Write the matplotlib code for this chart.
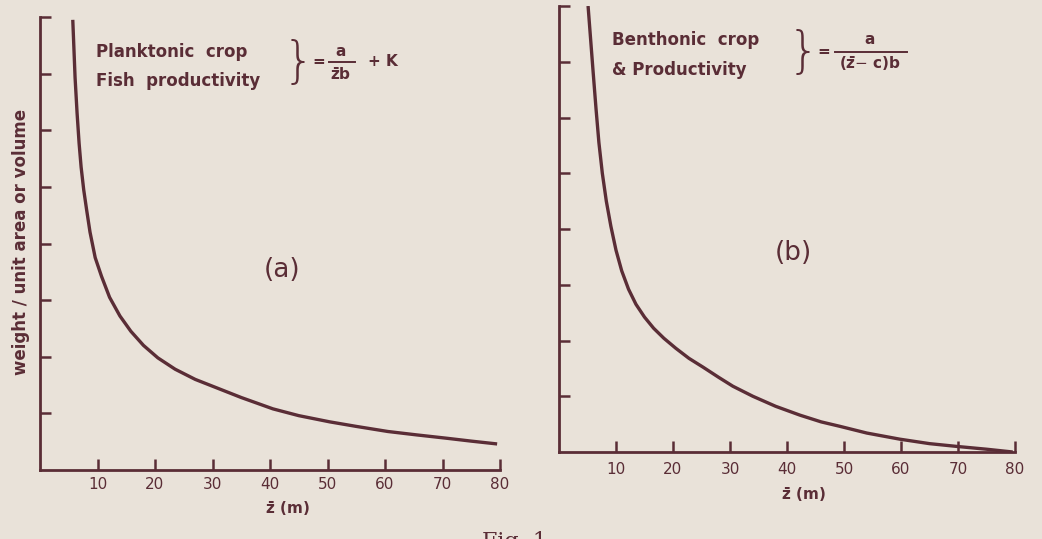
import matplotlib
matplotlib.use("Agg")
import matplotlib.pyplot as plt

# ---- data ----
plank_z = [5.7, 6.1, 6.45, 6.8, 7.15, 7.6, 8.1, 8.7, 9.6, 10.7, 12.1, 13.9, 15.8, 18.0,
           20.5, 23.5, 27.0, 30.5, 35.0, 40.5, 45.0, 50.4, 55.0, 60.5, 65.5, 70.8, 75.0, 79.5]
plank_w = [7.95, 6.93, 6.30, 5.77, 5.35, 4.95, 4.60, 4.20, 3.75, 3.42, 3.05, 2.72, 2.45, 2.20,
           1.98, 1.78, 1.60, 1.46, 1.28, 1.08, 0.96, 0.85, 0.77, 0.68, 0.62, 0.56, 0.51, 0.46]

benth_z = [5.1, 5.55, 6.0, 6.5, 7.0, 7.6, 8.3, 9.1, 10.0, 11.0, 12.2, 13.5, 15.0, 16.6, 18.4,
           20.5, 22.8, 25.3, 28.0, 30.5, 34.0, 38.0, 42.3, 46.0, 49.3, 54.0, 59.8, 65.0, 69.8,
           75.0, 79.6]
benth_w = [8.0, 7.4, 6.8, 6.15, 5.55, 5.0, 4.5, 4.05, 3.62, 3.25, 2.92, 2.65, 2.42, 2.22, 2.04,
           1.86, 1.68, 1.52, 1.34, 1.18, 1.00, 0.82, 0.66, 0.54, 0.46, 0.34, 0.23, 0.15, 0.10,
           0.05, 0.0]

x_ticks = [10, 20, 30, 40, 50, 60, 70, 80]
x_tick_labels = ["10", "20", "30", "40", "50", "60", "70", "80"]
y_ticks = [1, 2, 3, 4, 5, 6, 7, 8]

BG = "#e9e2d9"
INK = "#5a2d36"
W, H = 1042, 539

fig = plt.figure(figsize=(W / 100, H / 100), dpi=100, facecolor=BG)


def fx(px):
    return px / W


def fy(py):
    return 1 - py / H


def ftext(px, py, s, **kw):
    kw.setdefault("color", INK)
    kw.setdefault("ha", "center")
    kw.setdefault("va", "center")
    fig.text(fx(px), fy(py), s, **kw)


def make_axes(left, top, right, bottom, z, w, label_pad):
    ax = fig.add_axes([fx(left), fy(bottom), fx(right) - fx(left), (bottom - top) / H])
    ax.set_facecolor(BG)
    ax.plot(z, w, color=INK, lw=2.4, solid_capstyle="butt", solid_joinstyle="round")
    ax.set_xlim(0, 80)
    ax.set_ylim(0, 8)
    for s in ("top", "right"):
        ax.spines[s].set_visible(False)
    for s in ("left", "bottom"):
        ax.spines[s].set_color(INK)
        ax.spines[s].set_linewidth(2.0)
    ax.set_xticks(x_ticks)
    ax.set_xticklabels(x_tick_labels)
    ax.set_yticks(y_ticks)
    ax.set_yticklabels([])
    ax.tick_params(axis="both", direction="in", length=8, width=1.8, color=INK,
                   labelcolor=INK, labelsize=11)
    ax.tick_params(axis="x", pad=label_pad)
    return ax


ax1 = make_axes(40, 17, 500, 470, plank_z, plank_w, 5)
ax2 = make_axes(559, 6, 1015, 452, benth_z, benth_w, 7)

bold = dict(fontweight="bold", fontsize=11, family="DejaVu Sans")
bold12 = dict(fontweight="bold", fontsize=12, family="DejaVu Sans")

# ---- panel (a) annotations ----
ftext(96, 52, "Planktonic  crop", ha="left", **bold12)
ftext(96, 81, "Fish  productivity", ha="left", **bold12)
ftext(298, 63, "}", fontsize=36, fontweight="light")
ftext(319, 61, "=", **bold)
ftext(341, 51, "a", **bold)
fig.add_artist(plt.Line2D([fx(329), fx(355)], [fy(62), fy(62)], color=INK, lw=1.4))
ftext(341, 75, r"$\mathbf{\bar{z}}$b", **bold)
ftext(383, 62, "+ K", **bold)
ftext(282, 270, "(a)", fontsize=19)
ftext(287, 509, r"$\mathbf{\bar{z}}$ (m)", **bold)
ftext(21, 242, "weight / unit area or volume", rotation=90, **bold12)

# ---- panel (b) annotations ----
ftext(612, 40, "Benthonic  crop", ha="left", **bold12)
ftext(612, 70, "& Productivity", ha="left", **bold12)
ftext(803, 53, "}", fontsize=36, fontweight="light")
ftext(824, 52, "=", **bold)
ftext(870, 40, "a", **bold)
fig.add_artist(plt.Line2D([fx(835), fx(907)], [fy(52), fy(52)], color=INK, lw=1.4))
ftext(870, 64, r"($\mathbf{\bar{z}}$$-$ c)b", **bold)
ftext(793, 253, "(b)", fontsize=19)
ftext(803, 495, r"$\mathbf{\bar{z}}$ (m)", **bold)

# caption (cut off at the bottom edge in the scan)
ftext(515, 531, "Fig. 1", va="top", fontsize=16, family="DejaVu Serif")

fig.savefig("out.png", dpi=100, facecolor=BG)
